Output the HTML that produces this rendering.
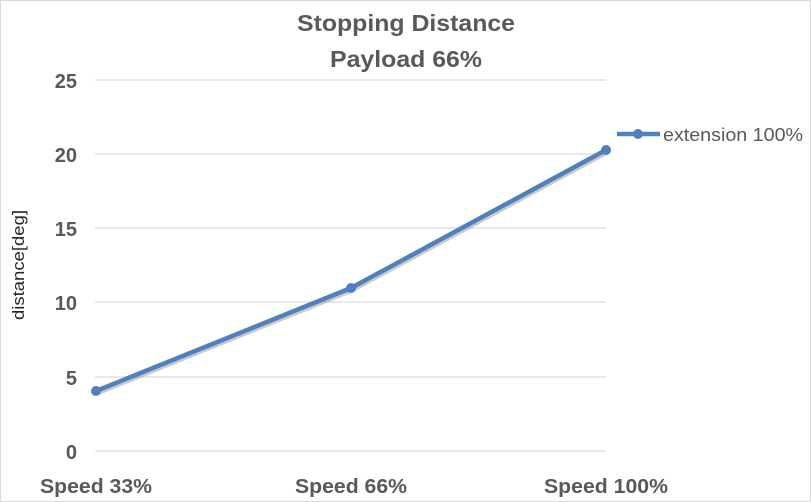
<!DOCTYPE html>
<html><head><style>
html,body{margin:0;padding:0;background:#fff}
svg{display:block}
</style></head><body>
<svg width="811" height="502" xmlns="http://www.w3.org/2000/svg" font-family="Liberation Sans, sans-serif">
<rect x="0.5" y="0.5" width="810" height="501" fill="#fff" stroke="#d9d9d9"/>
<text x="406" y="31" text-anchor="middle" font-size="23" font-weight="bold" fill="#595959" textLength="218" lengthAdjust="spacingAndGlyphs">Stopping Distance</text>
<text x="406" y="67" text-anchor="middle" font-size="23" font-weight="bold" fill="#595959" textLength="152" lengthAdjust="spacingAndGlyphs">Payload 66%</text>
<g stroke="#d9d9d9" stroke-width="1.3">
<line x1="95" y1="80" x2="606" y2="80"/>
<line x1="95" y1="154" x2="606" y2="154"/>
<line x1="95" y1="228" x2="606" y2="228"/>
<line x1="95" y1="302" x2="606" y2="302"/>
<line x1="95" y1="377" x2="606" y2="377"/>
<line x1="95" y1="451" x2="606" y2="451"/>
</g>
<g font-size="20" font-weight="bold" fill="#595959" text-anchor="end">
<text x="77" y="88">25</text>
<text x="77" y="162">20</text>
<text x="77" y="236">15</text>
<text x="77" y="310">10</text>
<text x="77" y="385">5</text>
<text x="77" y="459">0</text>
</g>
<g font-size="20" font-weight="bold" fill="#595959" text-anchor="middle">
<text x="96" y="493" textLength="112" lengthAdjust="spacingAndGlyphs">Speed 33%</text>
<text x="351" y="493" textLength="112" lengthAdjust="spacingAndGlyphs">Speed 66%</text>
<text x="606" y="493" textLength="124" lengthAdjust="spacingAndGlyphs">Speed 100%</text>
</g>
<text transform="translate(24,265) rotate(-90)" text-anchor="middle" font-size="17" fill="#262626" textLength="110" lengthAdjust="spacingAndGlyphs">distance[deg]</text>
<polyline points="97,393 352,290 607,152" fill="none" stroke="#a6a6a6" stroke-opacity="0.6" stroke-width="5" stroke-linejoin="round"/>
<polyline points="96,391 351,288 606,150" fill="none" stroke="#4f81bd" stroke-width="4.5" stroke-linejoin="round"/>
<g fill="#4f81bd">
<circle cx="96" cy="391" r="5"/>
<circle cx="351" cy="288" r="5"/>
<circle cx="606" cy="150" r="5"/>
<line x1="617" y1="134" x2="660" y2="134" stroke="#4f81bd" stroke-width="4.5"/>
<circle cx="638" cy="134" r="5"/>
</g>
<text x="663" y="141" font-size="18" fill="#595959" textLength="140" lengthAdjust="spacingAndGlyphs">extension 100%</text>
</svg>
</body></html>
